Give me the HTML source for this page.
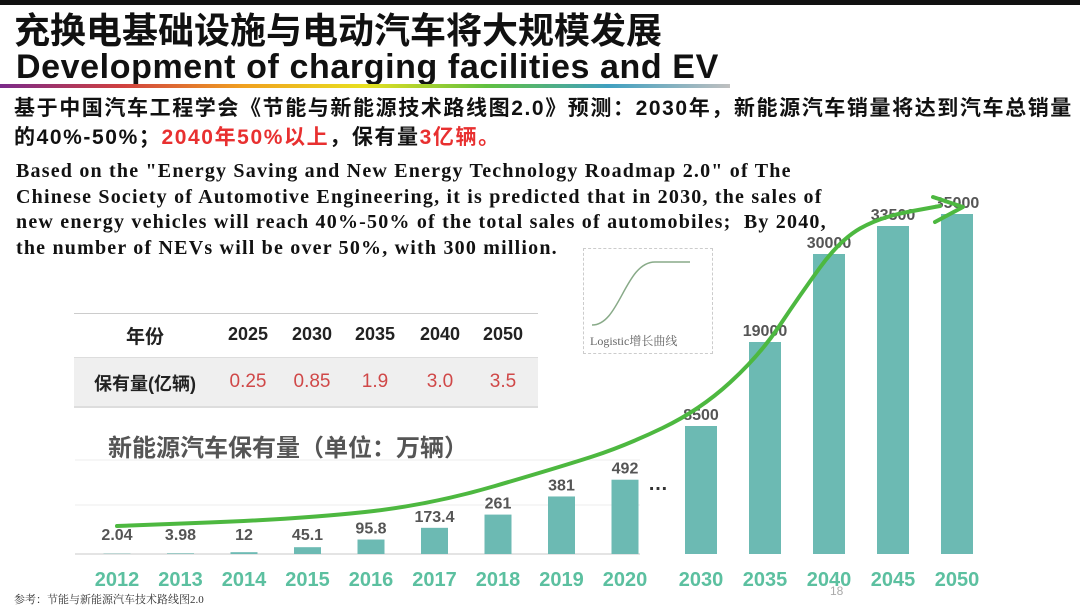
<!DOCTYPE html>
<html><head><meta charset="utf-8"><style>
body{margin:0;width:1080px;height:606px;overflow:hidden;background:#fff;font-family:"Liberation Sans","Noto Sans CJK SC",sans-serif;position:relative}
.a{position:absolute;white-space:nowrap}
</style></head><body>
<div class="a" style="left:0;top:0;width:1080px;height:5px;background:#111"></div>
<div class="a" style="left:14px;top:11px;font-size:36px;line-height:40px;font-weight:bold;color:#111">充换电基础设施与电动汽车将大规模发展</div>
<div class="a" style="left:16px;top:48px;font-size:34px;line-height:38px;font-weight:bold;color:#111;letter-spacing:0.6px">Development of charging facilities and EV</div>
<div class="a" style="left:0;top:84px;width:730px;height:4px;background:linear-gradient(90deg,#7a2a8a,#d04040,#f0a020,#e8e020,#60c040,#40a0c0,#c0c0c0)"></div>
<div class="a" style="left:14px;top:94px;font-size:21px;letter-spacing:1.6px;font-weight:bold;color:#111;line-height:29px">基于中国汽车工程学会《节能与新能源技术路线图2.0》预测：2030年，新能源汽车销量将达到汽车总销量<br>的40%-50%；<span style="color:#e83030">2040年50%以上</span>，保有量<span style="color:#e83030">3亿辆。</span></div>
<div class="a" style="left:16px;top:159px;font-family:'Liberation Serif',serif;font-size:20px;letter-spacing:1.2px;font-weight:bold;color:#111;line-height:25.5px">Based on the "Energy Saving and New Energy Technology Roadmap 2.0" of The<br>Chinese Society of Automotive Engineering, it is predicted that in 2030, the sales of<br>new energy vehicles will reach 40%-50% of the total sales of automobiles;&nbsp; By 2040,<br>the number of NEVs will be over 50%, with 300 million.</div>
<div class="a" style="left:583px;top:248px;width:128px;height:104px;border:1.5px dashed #ccc"></div>
<svg class="a" style="left:0;top:0" width="1080" height="606"><path d="M592,325 C620,325 625,262 655,262 L690,262" fill="none" stroke="#8a8" stroke-width="1.5"/></svg>
<div class="a" style="left:590px;top:332px;font-family:'Liberation Serif','Noto Serif CJK SC',serif;font-size:12px;color:#666">Logistic增长曲线</div>
<div class="a" style="left:74px;top:313px;width:464px;height:92px;border-top:1px solid #ccc;border-bottom:2px solid #ddd"></div>
<div class="a" style="left:74px;top:357px;width:464px;height:48px;background:#efefef;border-top:1px solid #ddd"></div>
<div id="tbl"></div>
<div class="a" style="left:108px;top:428px;font-size:24px;font-weight:bold;color:#555">新能源汽车保有量（单位：万辆）</div>
<svg class="a" id="chart" style="left:0;top:0" width="1080" height="606"></svg>
<div class="a" style="left:14px;top:591px;font-family:'Liberation Serif','Noto Serif CJK SC',serif;font-size:11px;color:#333">参考：节能与新能源汽车技术路线图2.0</div>
<div class="a" style="left:830px;top:584px;font-size:12px;color:#aaa">18</div>
<script>
const tableYears=["2025","2030","2035","2040","2050"];
const tableVals=["0.25","0.85","1.9","3.0","3.5"];
const years1=["2012","2013","2014","2015","2016","2017","2018","2019","2020"];
const vals1=[2.04,3.98,12,45.1,95.8,173.4,261,381,492];
const years2=["2030","2035","2040","2045","2050"];
const vals2=[8500,19000,30000,33500,35000];
const labels1=["2.04","3.98","12","45.1","95.8","173.4","261","381","492"];
const labels2=["8500","19000","30000","33500","35000"];
const curveX=[117,300,430,560,625,700,760,800,840,880,940];
const curveY=[526,519,505,467,446,410,355,295,240,217,206];

const tbl=document.getElementById('tbl');
const colX=[248,312,375,440,503];
function addDiv(html,css){const d=document.createElement('div');d.className='a';d.style.cssText=css;d.innerHTML=html;tbl.appendChild(d);return d;}
let d=addDiv('年份','left:95px;top:322px;width:100px;text-align:center;font-size:19px;font-weight:bold;color:#222');


d=addDiv('保有量(亿辆)','left:85px;top:370px;width:120px;text-align:center;font-size:18px;font-weight:bold;color:#222');


tableYears.forEach((y,i)=>{
  let h=addDiv(y,`left:${colX[i]-35}px;top:324px;width:70px;text-align:center;font-size:18px;font-weight:bold;color:#222`);
  
  
  let v=addDiv(tableVals[i],`left:${colX[i]-35}px;top:371px;width:70px;text-align:center;font-size:19px;color:#d04848`);
  
  
});

const svg=document.getElementById('chart');const NS='http://www.w3.org/2000/svg';
const base=554;
function h1(v){return v*0.151;}
function h2(v){return 60+v*0.008;}
function x1(i){return 117+i*63.5;}
function x2(j){return 701+j*64;}
function el(tag,attrs){const e=document.createElementNS(NS,tag);for(const k in attrs)e.setAttribute(k,attrs[k]);svg.appendChild(e);return e;}
[460,505].forEach(y=>{const g=el('line',{x1:75,x2:640,y1:y,y2:y,stroke:'#eee','stroke-width':1});});
let bl=el('line',{x1:75,x2:640,y1:base,y2:base,stroke:'#e4e4e4','stroke-width':2});


function drawBar(cx,w,h,lab,yr,val){
  const r=el('rect',{x:cx-w/2,y:base-h,width:w,height:h,fill:'#6cbab3'});
  
  
  const t=el('text',{x:cx,y:Math.min(base-h-6,540),'text-anchor':'middle','font-size':16,'font-weight':'bold',fill:'#555','font-family':'Liberation Sans,sans-serif'});
  t.textContent=lab;
  
  
  const x=el('text',{x:cx,y:586,'text-anchor':'middle','font-size':20,'font-weight':'bold',fill:'#5cc0a0','font-family':'Liberation Sans,sans-serif'});
  x.textContent=yr;
  
  
}
vals1.forEach((v,i)=>drawBar(x1(i),27,h1(v),labels1[i],years1[i],v));
vals2.forEach((v,j)=>drawBar(x2(j),32,h2(v),labels2[j],years2[j],v));
let el3=el('text',{x:648,y:490,'font-size':20,'font-weight':'bold',fill:'#333'});el3.textContent='…';


let p='M'+curveX[0]+','+curveY[0];
for(let i=1;i<curveX.length;i++){const mx=(curveX[i-1]+curveX[i])/2,my=(curveY[i-1]+curveY[i])/2;p+=' Q'+curveX[i-1]+','+curveY[i-1]+' '+mx+','+my;}
p+=' L'+curveX[curveX.length-1]+','+curveY[curveY.length-1];
const c=el('path',{d:p,fill:'none',stroke:'#4db840','stroke-width':4,'stroke-linecap':'round'});


const ah=el('path',{d:'M933,197 L963,207 L935,222',fill:'none',stroke:'#4db840','stroke-width':4,'stroke-linecap':'round','stroke-linejoin':'round'});


</script>
</body></html>
